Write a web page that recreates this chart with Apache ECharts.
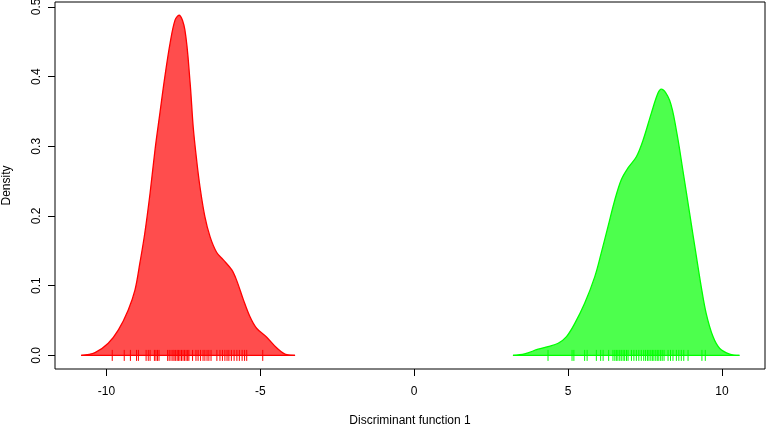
<!DOCTYPE html>
<html>
<head>
<meta charset="utf-8">
<script src="https://cdn.jsdelivr.net/npm/echarts@6/dist/echarts.min.js"></script>
<style>html,body{margin:0;padding:0;background:#fff;}#c{width:767px;height:424px;}</style>
</head>
<body>
<div id="c"></div>
<script>
// Density curve of group 1 (red): [x, density]
const redX = [-10.82,-10.37,-9.94,-9.61,-9.29,-9.07,-8.91,-8.75,-8.58,-8.42,-8.26,-8.10,-7.93,-7.77,-7.64,-7.45,-7.28,-7.18,-7.07,-6.96,-6.80,-6.63,-6.42,-6.20,-5.93,-5.77,-5.55,-5.33,-5.12,-4.79,-4.47,-4.14,-3.87];
const redY = [0,0.004,0.0175,0.0366,0.0653,0.094,0.133,0.176,0.233,0.295,0.348,0.400,0.448,0.481,0.488,0.467,0.391,0.328,0.281,0.242,0.199,0.170,0.148,0.137,0.123,0.108,0.080,0.055,0.039,0.026,0.011,0.001,0];
// Density curve of group 2 (green)
const greenX = [3.21,3.59,4.03,4.35,4.68,4.95,5.22,5.54,5.87,6.08,6.30,6.52,6.73,6.95,7.22,7.44,7.71,7.92,8.03,8.30,8.52,8.73,8.95,9.17,9.33,9.49,9.71,9.93,10.25,10.57];
const greenY = [0,0.0022,0.0089,0.0126,0.0175,0.027,0.046,0.0747,0.113,0.147,0.185,0.223,0.252,0.269,0.285,0.309,0.348,0.376,0.382,0.366,0.323,0.266,0.204,0.142,0.098,0.060,0.027,0.010,0.002,0];
// Rug (individual observations)
const redRug = [-9.81,-9.42,-9.22,-9.02,-8.96,-8.71,-8.64,-8.58,-8.44,-8.39,-8.34,-8.29,-8.01,-7.96,-7.90,-7.84,-7.80,-7.75,-7.70,-7.66,-7.61,-7.56,-7.51,-7.46,-7.41,-7.36,-7.32,-7.20,-7.09,-7.02,-6.94,-6.86,-6.80,-6.73,-6.67,-6.60,-6.41,-6.31,-6.23,-6.15,-6.08,-6.02,-5.94,-5.85,-5.76,-5.68,-5.59,-5.51,-5.44,-4.92];
const greenRug = [4.35,5.13,5.19,5.54,5.62,5.92,6.06,6.14,6.32,6.46,6.52,6.57,6.62,6.68,6.73,6.79,6.84,6.90,6.95,7.06,7.14,7.22,7.30,7.38,7.46,7.52,7.58,7.63,7.69,7.74,7.79,7.85,7.90,7.95,8.01,8.06,8.12,8.25,8.33,8.41,8.52,8.60,8.68,8.76,8.90,9.35,9.46];
// Axis ticks
const xTicks = [-10,-5,0,5,10];
const yTicks = [0,0.1,0.2,0.3,0.4,0.5];
const xLabelText = 'Discriminant function 1';
const yLabelText = 'Density';

const FONT = "'Liberation Sans', Arial, Helvetica, sans-serif";
const pairs = (xs, ys) => xs.map((x, i) => [x, ys[i]]);
const RUG_H = 0.0079;

function rugSeries(vals, color) {
  return {
    type: 'custom',
    data: vals.map(v => [v]),
    z: 5,
    renderItem: function (params, api) {
      const x = api.value(0);
      const p1 = api.coord([x, -RUG_H]);
      const p2 = api.coord([x, RUG_H]);
      return {
        type: 'line',
        shape: { x1: p1[0], y1: p1[1], x2: p2[0], y2: p2[1] },
        style: { stroke: color, lineWidth: 1 }
      };
    },
    silent: true
  };
}
function baseSeries(xs, color) {
  return {
    type: 'line', data: [[xs[0], 0], [xs[xs.length - 1], 0]],
    showSymbol: false, lineStyle: { color: color, width: 1.2 }, z: 3, silent: true
  };
}
function densSeries(xs, ys, line, fill) {
  return {
    type: 'line', data: pairs(xs, ys), smooth: 0.35, showSymbol: false,
    lineStyle: { color: line, width: 1.3 },
    areaStyle: { color: fill, opacity: 1 },
    z: 2, silent: true
  };
}

const chart = echarts.init(document.getElementById('c'), null, { renderer: 'canvas' });
chart.setOption({
  animation: false,
  backgroundColor: '#fff',
  textStyle: { fontFamily: FONT },
  grid: { left: 55, right: 2, top: 2, bottom: 55, containLabel: false, outerBoundsMode: 'none',
    show: true, borderColor: '#000', borderWidth: 1, backgroundColor: 'transparent' },
  xAxis: {
    type: 'value', min: -11.67, max: 11.40,
    splitLine: { show: false },
    axisLine: { show: false, onZero: false },
    axisTick: { show: true, length: 7, lineStyle: { color: '#000' }, customValues: xTicks },
    axisLabel: { show: true, margin: 17, color: '#000', fontSize: 12, fontFamily: FONT, customValues: xTicks,
      formatter: v => String(v) },
    name: xLabelText, nameLocation: 'middle', nameGap: 46,
    nameTextStyle: { color: '#000', fontSize: 12, fontFamily: FONT }
  },
  yAxis: {
    type: 'value', min: -0.0195, max: 0.507,
    splitLine: { show: false },
    axisLine: { show: false, onZero: false },
    axisTick: { show: true, length: 7, lineStyle: { color: '#000' }, customValues: yTicks },
    axisLabel: { show: true, margin: 12, rotate: 90, color: '#000', fontSize: 12, fontFamily: FONT, customValues: yTicks,
      formatter: v => v.toFixed(1) },
    name: yLabelText, nameLocation: 'middle', nameGap: 42,
    nameTextStyle: { color: '#000', fontSize: 12, fontFamily: FONT }
  },
  series: [
    densSeries(redX, redY, '#FF0000', '#FF4D4D'),
    densSeries(greenX, greenY, '#00FF00', '#4DFF4D'),
    baseSeries(redX, '#FF0000'),
    baseSeries(greenX, '#00FF00'),
    rugSeries(redRug, '#FF0000'),
    rugSeries(greenRug, '#00FF00')
  ]
});
</script>
</body>
</html>
